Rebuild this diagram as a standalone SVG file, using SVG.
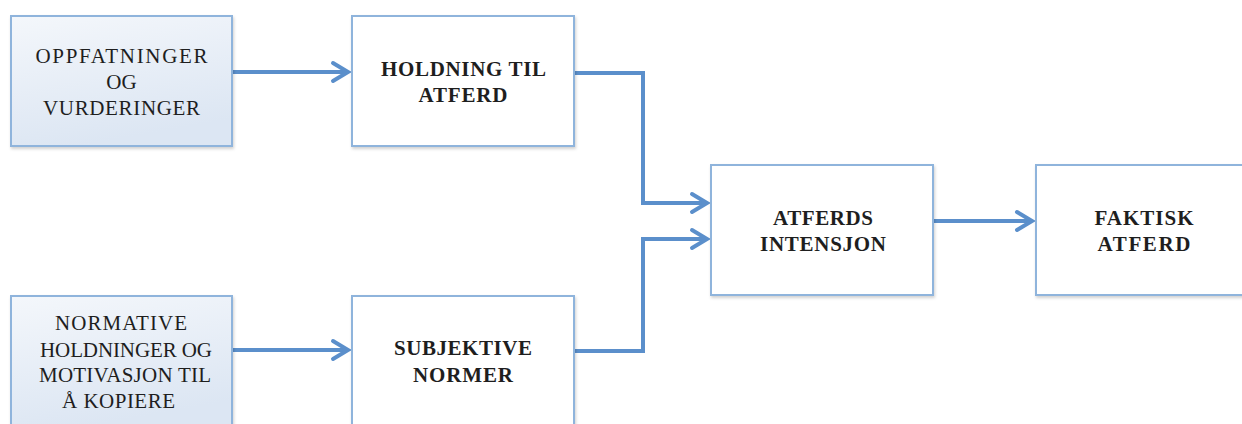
<svg xmlns="http://www.w3.org/2000/svg" width="1242" height="424" viewBox="0 0 1242 424">
  <style>
    .box { fill: #ffffff; stroke: #8fb4dc; stroke-width: 2; }
    .src { fill: url(#srcFill); }
    .t { font-family: "Liberation Serif", "Times New Roman", serif; font-size: 21px; fill: #1e1e1e; text-anchor: middle; }
    .b { font-weight: bold; }
    .conn { fill: none; stroke: #5b8fcb; stroke-width: 4; stroke-linejoin: miter; marker-end: url(#chev); }
  </style>
  <defs>
    <linearGradient id="srcFill" x1="0" y1="0" x2="0.3" y2="1">
      <stop offset="0" stop-color="#f4f7fb"/>
      <stop offset="1" stop-color="#dce6f3"/>
    </linearGradient>
    <filter id="sh" x="-5%" y="-5%" width="115%" height="115%">
      <feDropShadow dx="1" dy="2" stdDeviation="1.5" flood-color="#000" flood-opacity="0.18"/>
    </filter>
    <marker id="chev" markerUnits="userSpaceOnUse" viewBox="-20 -12 24 24" refX="0" refY="0" markerWidth="24" markerHeight="24" orient="auto">
      <path d="M-15,-9 L0,0 L-15,9" fill="none" stroke="#5b8fcb" stroke-width="4" stroke-linejoin="miter" stroke-linecap="round"/>
    </marker>
  </defs>

  <g id="connectors">
    <path class="conn" d="M232,72 H348"/>
    <path class="conn" d="M232,350 H348"/>
    <path class="conn" d="M574,73 H643 V203 H707"/>
    <path class="conn" d="M574,351 H643 V239 H707"/>
    <path class="conn" d="M933,221 H1032"/>
  </g>

  <g id="oppfatninger">
    <rect class="box src" x="11" y="16" width="221" height="130" filter="url(#sh)"/>
    <text class="t" x="121.5" y="63" textLength="172" lengthAdjust="spacing">OPPFATNINGER</text>
    <text class="t" x="121.5" y="89">OG</text>
    <text class="t" x="121.5" y="115" textLength="157" lengthAdjust="spacing">VURDERINGER</text>
  </g>

  <g id="holdning">
    <rect class="box" x="352" y="16" width="222" height="130" filter="url(#sh)"/>
    <text class="t b" x="463.5" y="76" textLength="165" lengthAdjust="spacing">HOLDNING TIL</text>
    <text class="t b" x="463" y="102" textLength="89" lengthAdjust="spacing">ATFERD</text>
  </g>

  <g id="intensjon">
    <rect class="box" x="711" y="165" width="222" height="130" filter="url(#sh)"/>
    <text class="t b" x="823" y="225" textLength="100" lengthAdjust="spacing">ATFERDS</text>
    <text class="t b" x="823" y="251" textLength="126" lengthAdjust="spacing">INTENSJON</text>
  </g>

  <g id="faktisk">
    <rect class="box" x="1036" y="165" width="222" height="130" filter="url(#sh)"/>
    <text class="t b" x="1144" y="225" textLength="99" lengthAdjust="spacing">FAKTISK</text>
    <text class="t b" x="1144" y="251" textLength="93" lengthAdjust="spacing">ATFERD</text>
  </g>

  <g id="normative">
    <rect class="box src" x="11" y="296" width="221" height="132" filter="url(#sh)"/>
    <text class="t" x="121" y="330" textLength="132" lengthAdjust="spacing">NORMATIVE</text>
    <text class="t" x="126" y="357" textLength="172" lengthAdjust="spacing">HOLDNINGER OG</text>
    <text class="t" x="125" y="382" textLength="172" lengthAdjust="spacing">MOTIVASJON TIL</text>
    <text class="t" x="118.5" y="408" textLength="113" lengthAdjust="spacing">Å KOPIERE</text>
  </g>

  <g id="subjektive">
    <rect class="box" x="352" y="296" width="222" height="132" filter="url(#sh)"/>
    <text class="t b" x="463" y="355" textLength="138" lengthAdjust="spacing">SUBJEKTIVE</text>
    <text class="t b" x="463" y="382" textLength="100" lengthAdjust="spacing">NORMER</text>
  </g>
</svg>
